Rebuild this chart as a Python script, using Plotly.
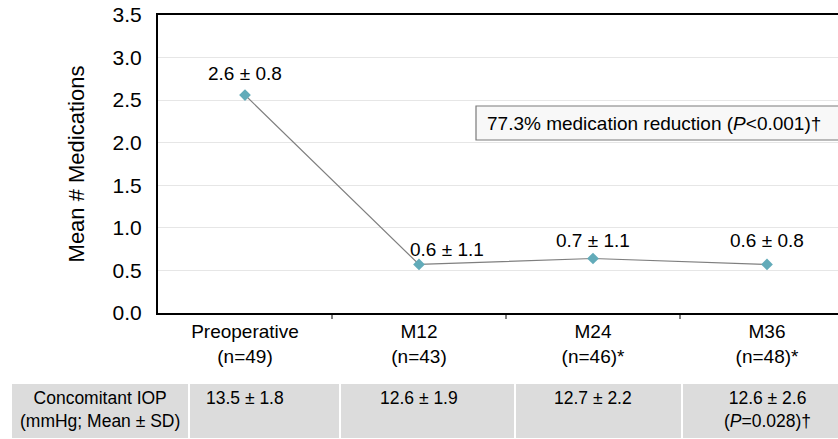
import plotly.graph_objects as go

categories = ["Preoperative<br>(n=49)", "M12<br>(n=43)", "M24<br>(n=46)*", "M36<br>(n=48)*"]
mean_meds = [2.56, 0.57, 0.64, 0.57]
value_labels = ["2.6 ± 0.8", "0.6 ± 1.1", "0.7 ± 1.1", "0.6 ± 0.8"]
iop_header = "Concomitant IOP<br>(mmHg; Mean ± SD)"
iop_values = ["13.5 ± 1.8", "12.6 ± 1.9", "12.7 ± 2.2", "12.6 ± 2.6<br>(<i>P</i>=0.028)†"]
ytick_vals = [0.0, 0.5, 1.0, 1.5, 2.0, 2.5, 3.0, 3.5]
reduction_text = "77.3% medication reduction (<i>P</i><0.001)†"

W, H = 838, 439
L, R, T, B = 158, 838, 15, 313
FONT = "Liberation Sans, Arial, sans-serif"

def px(x):
    return (x - L) / (R - L)

def py(y):
    return (B - y) / (B - T)

xi = list(range(len(categories)))

fig = go.Figure()
fig.add_trace(go.Scatter(
    x=xi, y=mean_meds, mode="lines+markers",
    line=dict(color="#7f7f7f", width=1.2),
    marker=dict(symbol="diamond", size=9, color="#62abb9"),
    hoverinfo="skip", showlegend=False,
))

annotations = []
label_shift = [(0, 22), (28, 15), (0, 18), (0, 24)]
for i, (v, t) in enumerate(zip(mean_meds, value_labels)):
    dx, dy = label_shift[i]
    annotations.append(dict(x=i, y=v, xref="x", yref="y", text=t, showarrow=False,
                            xshift=dx, yshift=dy, yanchor="middle",
                            font=dict(size=19, color="black", family=FONT)))

annotations.append(dict(x=px(485), y=py(123), xref="paper", yref="paper", text=reduction_text,
                        showarrow=False, xanchor="left", yanchor="middle",
                        font=dict(size=19, color="black", family=FONT)))

shapes = []
shapes.append(dict(type="rect", xref="paper", yref="paper", x0=px(476), x1=px(860),
                   y0=py(140), y1=py(106), line=dict(color="#7a7a7a", width=1.2),
                   fillcolor="#f8f8f8", layer="below"))

# Table background cells
cell_edges = [11, 189, 340, 515, 682, 850]
for a, b in zip(cell_edges[:-1], cell_edges[1:]):
    shapes.append(dict(type="rect", xref="paper", yref="paper",
                       x0=px(a + 1), x1=px(b - 1), y0=py(438), y1=py(384),
                       line=dict(width=0), fillcolor="#dcdcdc", layer="below"))

annotations.append(dict(x=px(100), y=py(386), xref="paper", yref="paper", text=iop_header,
                        showarrow=False, xanchor="center", yanchor="top", align="center",
                        font=dict(size=17.5, color="black", family=FONT)))
for i, t in enumerate(iop_values):
    annotations.append(dict(x=i, y=py(386), xref="x", yref="paper", text=t,
                            showarrow=False, xanchor="center", yanchor="top", align="center",
                            font=dict(size=17.5, color="black", family=FONT)))

# tick marks between categories on the bottom axis
for k in [0.5, 1.5, 2.5]:
    shapes.append(dict(type="line", xref="x", yref="paper", x0=k, x1=k,
                       y0=0, y1=py(319), line=dict(color="black", width=1)))

fig.update_layout(
    width=W, height=H,
    margin=dict(l=L, r=W - R, t=T, b=H - B, pad=0),
    paper_bgcolor="white", plot_bgcolor="white",
    font=dict(family=FONT, color="black"),
    annotations=annotations, shapes=shapes,
    xaxis=dict(
        range=[-0.5, -0.5 + (R - L) / 174.0],
        tickmode="array", tickvals=xi, ticktext=categories,
        showgrid=False, zeroline=False,
        showline=True, linecolor="black", linewidth=2, mirror=True,
        ticks="", tickfont=dict(size=19, family=FONT),
        fixedrange=True,
    ),
    yaxis=dict(
        range=[0, 3.5], tickmode="array", tickvals=ytick_vals,
        ticktext=[f"{v:.1f}" for v in ytick_vals],
        showgrid=True, gridcolor="#e6e6e6", gridwidth=1, zeroline=False,
        showline=True, linecolor="black", linewidth=2, mirror=False,
        ticks="", ticklen=0, tickfont=dict(size=21, family=FONT),
        ticklabelstandoff=10,
        title=dict(text="Mean # Medications", font=dict(size=22, family=FONT), standoff=22),
        fixedrange=True,
    ),
)

fig.write_html("out.html", config={"displayModeBar": False},
               post_script="document.body.style.margin='0';")
